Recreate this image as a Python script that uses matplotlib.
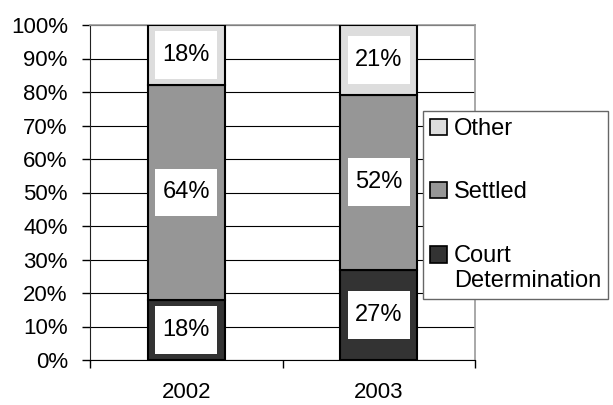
import matplotlib
matplotlib.use("Agg")
import matplotlib.pyplot as plt
from matplotlib.patches import Patch, Rectangle
from matplotlib.path import Path
from matplotlib.legend_handler import HandlerPatch
from matplotlib.ticker import FixedLocator, PercentFormatter
import numpy as np

plt.rcParams['font.family'] = ['Liberation Sans', 'DejaVu Sans']

years = ["2002", "2003"]
series_names = ["Court Determination", "Settled", "Other"]
court = [18, 27]
settled = [64, 52]
other = [18, 21]
colors = ["#333333", "#969696", "#dddddd"]
yticks = [0, 10, 20, 30, 40, 50, 60, 70, 80, 90, 100]

W, H = 613, 405
fig = plt.figure(figsize=(W / 100, H / 100), dpi=100)
ax = fig.add_axes([90 / W, 45 / H, 385 / W, 335 / H])

x = np.arange(len(years))
bottoms = np.zeros(len(years))


def label_box(x0, y0, width, height, mutation_size):
    px = 0.3 * mutation_size
    py = 0.55 * mutation_size
    xa, xb = x0 - px, x0 + width + px
    ya, yb = y0 - py, y0 + height + py
    return Path([(xa, ya), (xb, ya), (xb, yb), (xa, yb), (xa, ya)],
                [Path.MOVETO, Path.LINETO, Path.LINETO, Path.LINETO, Path.CLOSEPOLY])


handles = []
for name, vals, col in zip(series_names, [court, settled, other], colors):
    vals = np.array(vals, dtype=float)
    ax.bar(x, vals, width=0.4, bottom=bottoms, color=col, edgecolor="black",
           linewidth=1.5, zorder=3)
    for xi, b, v in zip(x, bottoms, vals):
        ax.text(xi, b + v / 2, f"{int(v)}%", ha="center", va="center",
                fontsize=17, zorder=5,
                bbox=dict(boxstyle=label_box, facecolor="white", edgecolor="none"))
    bottoms = bottoms + vals
    handles.append(Patch(facecolor=col, edgecolor="black", linewidth=1.2,
                         label=name.replace(" ", "\n")))

ax.set_ylim(0, 100)
ax.set_xlim(-0.5, len(years) - 0.5)
ax.set_yticks(yticks)
ax.yaxis.set_major_formatter(PercentFormatter(decimals=0))
ax.set_xticks(x)
ax.set_xticklabels(years)
ax.xaxis.set_minor_locator(FixedLocator(np.arange(len(years) + 1) - 0.5))
ax.tick_params(axis="x", which="major", length=0, pad=16, labelsize=16)
ax.tick_params(axis="x", which="minor", length=6, width=1, direction="out")
ax.tick_params(axis="y", length=6, width=1, direction="out", pad=10, labelsize=16)

ax.grid(axis="y", color="black", linewidth=0.8, zorder=0)
ax.set_axisbelow(True)
for s in ["top", "right"]:
    ax.spines[s].set_color("#999999")
    ax.spines[s].set_linewidth(1.2)
ax.spines["left"].set_color("#222222")
ax.spines["bottom"].set_color("black")


def shifted_patch(legend, orig_handle, xdescent, ydescent, width, height, fontsize):
    return Rectangle((-xdescent, -ydescent + 0.6 * fontsize), width, height)


leg_handles = handles[::-1]
leg = fig.legend(handles=leg_handles, loc="upper left",
                 bbox_to_anchor=(423 / W, 1 - 111 / H), borderaxespad=0,
                 fontsize=17, frameon=True, fancybox=False, edgecolor="#666666",
                 framealpha=1, handlelength=0.7, handleheight=0.7,
                 handletextpad=0.3, labelspacing=1.75, borderpad=0.3,
                 handler_map={leg_handles[2]: HandlerPatch(patch_func=shifted_patch)})
leg.get_frame().set_linewidth(1.0)

fig.savefig("out.png", dpi=100)
